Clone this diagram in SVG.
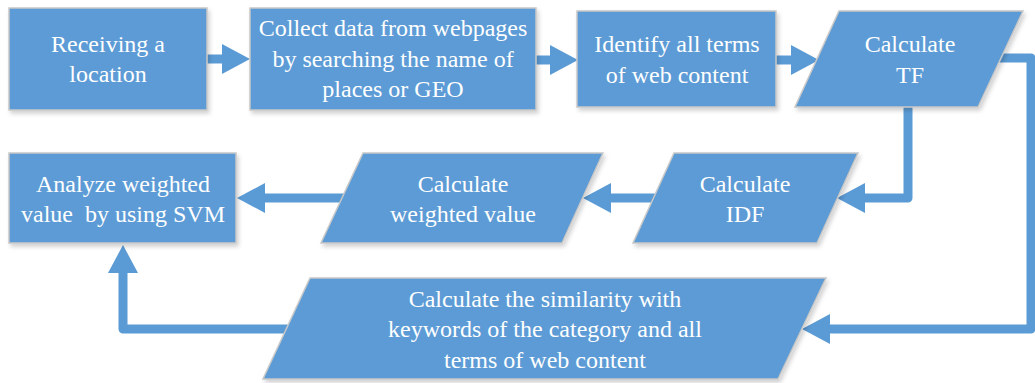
<svg xmlns="http://www.w3.org/2000/svg" width="1035" height="383" viewBox="0 0 1035 383">
  <style>
    .node { fill: #5B9BD5; stroke: #C8C8C8; stroke-width: 1.5; filter: url(#shadow); }
    .label { fill: #FFFFFF; font-family: 'Liberation Serif', 'Times New Roman', Times, 'DejaVu Serif', serif; font-size: 24px; text-anchor: middle; }
    .conn { fill: none; stroke: #5B9BD5; stroke-width: 9; stroke-linejoin: round; marker-end: url(#head); }
  </style>
  <defs>
    <filter id="shadow" x="-10%" y="-10%" width="125%" height="130%">
      <feDropShadow dx="2" dy="3" stdDeviation="2" flood-color="#000000" flood-opacity="0.18"/>
    </filter>
    <marker id="head" markerUnits="userSpaceOnUse" markerWidth="28" markerHeight="30" refX="0" refY="15" orient="auto">
      <path d="M0,0 L28,15 L0,30 Z" fill="#5B9BD5"/>
    </marker>
  </defs>
  <rect width="1035" height="383" fill="#FFFFFF"/>

  <g id="connectors">
    <path class="conn" d="M207,59 H222"/>
    <path class="conn" d="M536,60 H550"/>
    <path class="conn" d="M776,60 H791"/>
    <path class="conn" d="M908,105 V198 H865"/>
    <path class="conn" d="M999,58 H1031 V329 H830"/>
    <path class="conn" d="M657,198 H611"/>
    <path class="conn" d="M345,198 H265"/>
    <path class="conn" d="M288,329 H123 V273"/>
  </g>

  <g id="receiving">
    <rect class="node" x="9" y="8" width="198" height="102"/>
    <text class="label" font-family="Liberation Serif, serif" x="108" y="52">Receiving a</text>
    <text class="label" font-family="Liberation Serif, serif" x="108" y="82">location</text>
  </g>

  <g id="collect">
    <rect class="node" x="250" y="8" width="286" height="102"/>
    <text class="label" x="393" y="36">Collect data from webpages</text>
    <text class="label" x="393" y="67">by searching the name of</text>
    <text class="label" x="393" y="97">places or GEO</text>
  </g>

  <g id="identify">
    <rect class="node" x="577" y="11" width="199" height="96"/>
    <text class="label" x="677" y="52">Identify all terms</text>
    <text class="label" x="677" y="83">of web content</text>
  </g>

  <g id="tf">
    <polygon class="node" points="839,11 1023,11 978,107 795,107"/>
    <text class="label" x="910" y="52">Calculate</text>
    <text class="label" x="910" y="83">TF</text>
  </g>

  <g id="idf">
    <polygon class="node" points="674,153 858,153 817,243 633,243"/>
    <text class="label" x="745" y="192">Calculate</text>
    <text class="label" x="745" y="222">IDF</text>
  </g>

  <g id="weighted">
    <polygon class="node" points="363,153 603,153 562,243 321,243"/>
    <text class="label" x="463" y="192">Calculate</text>
    <text class="label" x="463" y="222">weighted value</text>
  </g>

  <g id="analyze">
    <rect class="node" x="9" y="153" width="227" height="90"/>
    <text class="label" x="123" y="192">Analyze weighted</text>
    <text class="label" x="123" y="222" xml:space="preserve">value  by using SVM</text>
  </g>

  <g id="similarity">
    <polygon class="node" points="310,278 826,278 778,379 263,379"/>
    <text class="label" x="545" y="307">Calculate the similarity with</text>
    <text class="label" x="545" y="337">keywords of the category and all</text>
    <text class="label" x="545" y="368">terms of web content</text>
  </g>
</svg>
